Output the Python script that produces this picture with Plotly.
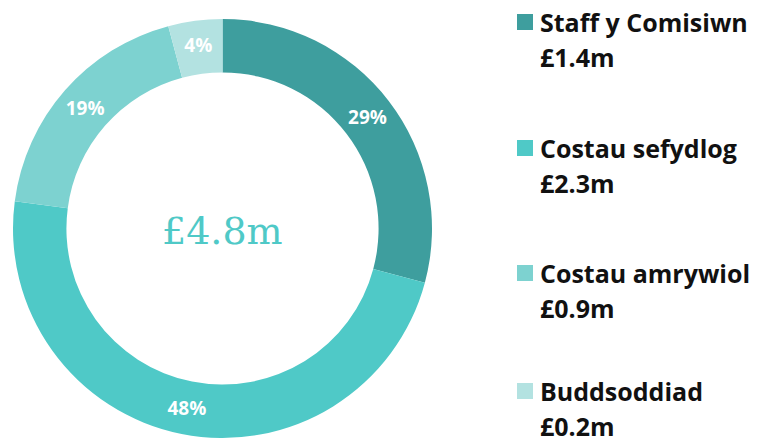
import plotly.graph_objects as go

labels = ["Staff y Comisiwn", "Costau sefydlog", "Costau amrywiol", "Buddsoddiad"]
values = [1.4, 2.3, 0.9, 0.2]
value_labels = ["£1.4m", "£2.3m", "£0.9m", "£0.2m"]
colors = ["#3E9E9E", "#4FC9C7", "#7DD2D0", "#B3E2E1"]
total_label = "£4.8m"

W, H = 758, 444

fig = go.Figure(go.Pie(
    labels=labels,
    values=values,
    hole=0.745,
    sort=False,
    direction="clockwise",
    rotation=0,
    marker=dict(colors=colors, line=dict(width=0)),
    texttemplate="%{percent:.0%}",
    textposition="inside",
    insidetextorientation="horizontal",
    textfont=dict(family="Open Sans", size=19, color="white", weight="bold"),
    domain=dict(x=[13 / W, 432 / W], y=[(H - 438) / H, (H - 19) / H]),
    showlegend=False,
    hoverinfo="label+value+percent",
))

annotations = [dict(
    text=total_label, x=222.5 / W, y=1 - 231 / H, xref="paper", yref="paper",
    xanchor="center", yanchor="middle", showarrow=False,
    font=dict(family="DejaVu Serif", size=38, color="#4FC9C7"),
)]
shapes = []
line1_y = [22, 148, 273, 391]
for i, (lab, val, col) in enumerate(zip(labels, value_labels, colors)):
    yc = line1_y[i]
    shapes.append(dict(type="rect", xref="paper", yref="paper",
                       x0=517 / W, x1=533 / W, y0=1 - (yc + 8) / H, y1=1 - (yc - 8) / H,
                       fillcolor=col, line=dict(width=0)))
    annotations.append(dict(text=lab, x=538 / W, y=1 - yc / H, xref="paper", yref="paper",
                            xanchor="left", yanchor="middle", showarrow=False,
                            font=dict(family="Open Sans", size=25, color="#111111", weight="bold")))
    annotations.append(dict(text=val, x=538 / W, y=1 - (yc + 35) / H, xref="paper", yref="paper",
                            xanchor="left", yanchor="middle", showarrow=False,
                            font=dict(family="Open Sans", size=25, color="#111111", weight="bold")))

fig.update_layout(
    width=W, height=H,
    margin=dict(l=0, r=0, t=0, b=0),
    paper_bgcolor="white", plot_bgcolor="white",
    annotations=annotations, shapes=shapes,
)

fig.write_html("out.html", config={"displayModeBar": False},
               post_script="document.body.style.margin='0';")
